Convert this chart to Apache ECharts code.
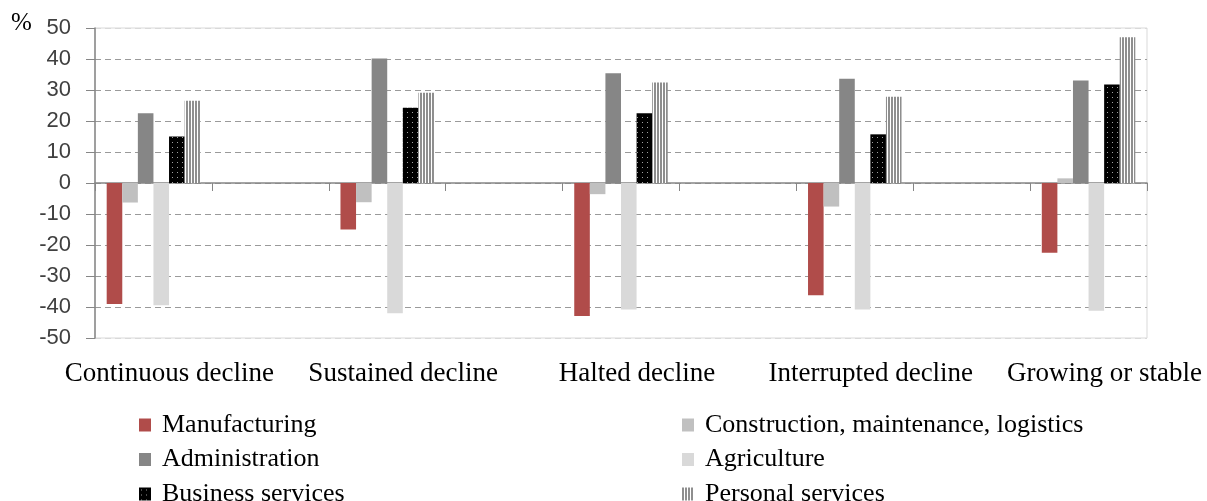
<!DOCTYPE html>
<html>
<head>
<meta charset="utf-8">
<script src="https://cdn.jsdelivr.net/npm/echarts@6/dist/echarts.min.js"></script>
<style>
  html, body { margin: 0; padding: 0; background: #fff; }
  #chart { width: 1207px; height: 501px; }
</style>
</head>
<body>
<div id="chart"></div>
<script>
// categories (a blank slot sits between each pair)
const categories = ["Continuous decline", "Sustained decline", "Halted decline", "Interrupted decline", "Growing or stable"];
const yTicks = { min: -50, max: 50, step: 10 };

const manufacturing = [-39, -15, -42.9, -36.2, -22.5];
const construction = [-6.3, -6.2, -3.6, -7.6, 1.5];
const administration = [22.5, 40.2, 35.4, 33.6, 33.1];
const agriculture = [-39.4, -42, -40.8, -40.8, -41.2];
const businessServices = [15, 24.3, 22.5, 15.7, 31.8];
const personalServices = [26.5, 29.1, 32.4, 27.8, 47];

const legendLeft = ["Manufacturing", "Administration", "Business services"];
const legendRight = ["Construction, maintenance, logistics", "Agriculture", "Personal services"];

// interleave an empty slot after every category except the last
const axisKeys = [];
categories.forEach((c, i) => {
  axisKeys.push(c);
  if (i < categories.length - 1) axisKeys.push("gap" + i);
});
const spread = (vals) => {
  const out = [];
  vals.forEach((v, i) => {
    out.push(v);
    if (i < vals.length - 1) out.push("-");
  });
  return out;
};

function dotPattern() {
  const c = document.createElement("canvas");
  c.width = 5; c.height = 5;
  const g = c.getContext("2d");
  g.fillStyle = "#000"; g.fillRect(0, 0, 5, 5);
  g.fillStyle = "#a0a0a0"; g.fillRect(2, 2, 1, 1);
  return { image: c, repeat: "repeat" };
}
function stripePattern() {
  const c = document.createElement("canvas");
  c.width = 3; c.height = 4;
  const g = c.getContext("2d");
  g.fillStyle = "#fff"; g.fillRect(0, 0, 3, 4);
  g.fillStyle = "#8e8e8e"; g.fillRect(0, 0, 2, 4);
  return { image: c, repeat: "repeat" };
}

const serif = "'Liberation Serif', 'Times New Roman', serif";
const splitColors = [];
for (let v = yTicks.min; v <= yTicks.max; v += yTicks.step) {
  splitColors.push(v === yTicks.min || v === yTicks.max ? "#d9d9d9" : "#9a9a9a");
}

const chart = echarts.init(document.getElementById("chart"));

const mk = (name, data, color) => ({
  name, type: "bar", data: spread(data), xAxisIndex: 0,
  barGap: "0%", barCategoryGap: "20%",
  itemStyle: { color },
});

const legendBase = {
  orient: "vertical", top: 407, height: 200,
  icon: "rect", itemWidth: 12, itemHeight: 13, itemGap: 8.5,
  textStyle: { fontFamily: serif, fontSize: 26, color: "#000", lineHeight: 26, padding: [0, 0, 0, 6] },
};

chart.setOption({
  animation: false,
  grid: {
    left: 95, right: 60, top: 28, height: 310, outerBoundsMode: "none",
    show: true, borderColor: "#d9d9d9", borderWidth: 1,
  },
  graphic: [{ type: "text", left: 11, top: 11, style: { text: "%", font: "25px " + serif, fill: "#000" } }],
  legend: [
    Object.assign({}, legendBase, { data: legendLeft, left: 134 }),
    Object.assign({}, legendBase, { data: legendRight, left: 677 }),
  ],
  xAxis: [
    {
      type: "category",
      data: axisKeys,
      axisLine: { onZero: true, lineStyle: { color: "#868686", width: 1.5 } },
      axisTick: { show: true, interval: 0, length: 8, lineStyle: { color: "#868686" } },
      axisLabel: { show: false },
      splitLine: { show: false },
    },
    {
      // label-only axis pinned to the bottom of the plot
      type: "category",
      data: axisKeys,
      position: "bottom",
      axisLine: { show: false, onZero: false },
      axisTick: { show: false },
      axisLabel: {
        interval: 0, margin: 22, color: "#000", fontFamily: serif, fontSize: 27,
        padding: [0, 0, 0, 32],
        formatter: (v) => (v.startsWith("gap") ? "" : v),
      },
      splitLine: { show: false },
    },
  ],
  yAxis: {
    type: "value", min: yTicks.min, max: yTicks.max, interval: yTicks.step,
    axisLine: { show: true, lineStyle: { color: "#868686", width: 1.5 } },
    axisTick: { show: true, length: 9, lineStyle: { color: "#868686" } },
    axisLabel: { margin: 24, color: "#404040", fontFamily: "'Liberation Sans', Arial, sans-serif", fontSize: 22 },
    splitLine: { show: true, lineStyle: { color: splitColors, type: [6, 4], width: 1 } },
  },
  series: [
    mk("Manufacturing", manufacturing, "#b04c4a"),
    mk("Construction, maintenance, logistics", construction, "#c0c0c0"),
    mk("Administration", administration, "#868686"),
    mk("Agriculture", agriculture, "#d9d9d9"),
    mk("Business services", businessServices, dotPattern()),
    mk("Personal services", personalServices, stripePattern()),
  ],
});
</script>
</body>
</html>
